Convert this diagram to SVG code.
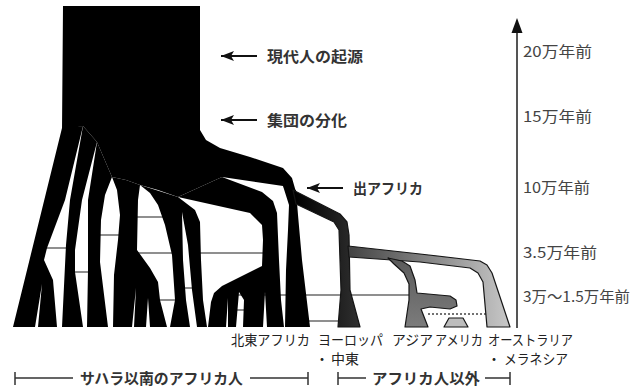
<svg xmlns="http://www.w3.org/2000/svg" width="643" height="387" viewBox="0 0 643 387">
<defs>
<linearGradient id="gEu" gradientUnits="userSpaceOnUse" x1="295" y1="0" x2="360" y2="0"><stop offset="0" stop-color="#000"/><stop offset="1" stop-color="#303030"/></linearGradient>
<linearGradient id="gOc" gradientUnits="userSpaceOnUse" x1="350" y1="0" x2="505" y2="0"><stop offset="0" stop-color="#444"/><stop offset="1" stop-color="#c4c4c4"/></linearGradient>
<linearGradient id="gAs" gradientUnits="userSpaceOnUse" x1="0" y1="258" x2="0" y2="327"><stop offset="0" stop-color="#5a5a5a"/><stop offset="1" stop-color="#7c7c7c"/></linearGradient>
<marker id="ah" viewBox="0 0 13 10" refX="13" refY="5" markerWidth="13" markerHeight="10" markerUnits="userSpaceOnUse" orient="auto"><path d="M0,0 L13,5 L0,10 L3,5 z" fill="#111"/></marker>
</defs>
<style>
.t{font-family:"Noto Sans CJK JP","Noto Sans",sans-serif;fill:#222;}
.b{font-weight:bold;fill:#333;}
.ax{fill:#444;}
.f15{font-size:15px;}
.f14{font-size:14px;}
.gl{stroke:#6a6a6a;stroke-width:1.5;fill:none;}
.blk{fill:#000;}
.ol{stroke:#151515;stroke-width:1.2;stroke-linejoin:round;}
.br{stroke:#333;stroke-width:1.5;fill:none;}
.arr{stroke:#111;stroke-width:2;fill:none;}
</style>
<rect width="643" height="387" fill="#fff"/>

<g id="gene-flow-lines" class="gl">
<line x1="45" y1="248" x2="68" y2="248"/>
<line x1="73" y1="272" x2="90" y2="272"/>
<line x1="98" y1="235" x2="121" y2="235"/>
<line x1="135" y1="217" x2="165" y2="217"/>
<line x1="135" y1="253" x2="173" y2="253"/>
<line x1="158" y1="300" x2="177" y2="300"/>
<line x1="183" y1="288" x2="195" y2="288"/>
<line x1="199" y1="253" x2="265" y2="253"/>
<line x1="234" y1="310" x2="246" y2="310"/>
<line x1="237" y1="295" x2="410" y2="295"/>
<line x1="300" y1="321" x2="340" y2="321"/>
<line x1="428" y1="314" x2="486" y2="314" stroke="#444" stroke-dasharray="2,2"/>
</g>

<g id="tree-africa" class="blk">
<path d="M63,6 H200 V130 L206,140 L220,148 L250,157 L283,168 L292,178 L296,192 L289,196 L283,186 L222,177 L178,197 L158,190 L140,185 L126,180 L112,177 L97,142 L83,126 L62,130 Z"/>
<path d="M62,128 L83,126 L65,200 L47,248 L44,260 L53,280 L57,327 L38,327 L42,284 L35,327 L13,327 Z"/>
<path d="M83,126 L97,142 L82,200 L75,250 L75,272 L83,327 L62,327 L66,245 L70,200 Z"/>
<path d="M97,142 L112,177 L105,195 L101,220 L100,262 L108,327 L87,327 L88,270 L88,200 Z"/>
<path d="M112,177 L126,180 L140,185 L138,200 L137,250 L150,268 L158,282 L160,300 L167,327 L150,327 L148,298 L146,327 L134,327 L136,288 L132,327 L113,327 L114,275 L118,240 L120,215 L117,190 Z"/>
<path d="M140,185 L178,197 L195,210 L200,222 L201,260 L203,300 L207,327 L197,327 L192,290 L188,245 L182,212 L183,260 L186,300 L190,327 L170,327 L175,300 L172,255 L165,225 L158,205 L150,193 Z"/>
<path d="M222,177 L262,192 L273,201 L277,213 L279,260 L281,300 L284,327 L267,327 L265,292 L263,327 L243,327 L244,300 L239,292 L236,327 L228,327 L228,298 L226,327 L208,327 L211,302 L214,293 L222,286 L262,266 L263,240 L262,225 L250,213 L178,197 Z"/>
<path d="M283,186 L296,190 L298,215 L302,260 L310,327 L285,327 L286,270 L288,230 L289,205 Z"/>
</g>

<g id="tree-out-of-africa">
<path id="europe" class="ol" fill="url(#gEu)" d="M293,190 L340,214 L347,222 L349,235 L350,290 L360,327 L338,327 L341,290 L339,230 L334,222 L296,204 Z"/>
<path id="oceania" class="ol" fill="url(#gOc)" d="M348,246 L420,254 L480,261 L487,265 L492,273 L510,327 L487,327 L483,282 L478,273 L470,268 L420,262 L349,257 Z"/>
<path id="asia" class="ol" fill="url(#gAs)" d="M388,258 L402,261 L410,266 L415,280 L417,293 L450,296 L456,300 L457,306 L450,309 L430,307 L421,309 L428,327 L405,327 L409,300 L409,284 L404,273 L394,264 Z"/>
<path id="america" class="ol" fill="#bdbdbd" d="M449,318 L463,318 L468,327 L444,327 Z"/>
</g>

<g id="time-axis">
<line x1="517" y1="30" x2="517" y2="328" stroke="#555" stroke-width="2"/>
<polygon points="517,18 511.5,33 522.5,33" fill="#111"/>
<text class="t ax f15" x="523" y="57" textLength="69" lengthAdjust="spacingAndGlyphs">20万年前</text>
<text class="t ax f15" x="523" y="122" textLength="69" lengthAdjust="spacingAndGlyphs">15万年前</text>
<text class="t ax f15" x="523" y="193" textLength="67" lengthAdjust="spacingAndGlyphs">10万年前</text>
<text class="t ax f15" x="523" y="258" textLength="74" lengthAdjust="spacingAndGlyphs">3.5万年前</text>
<text class="t ax f15" x="523" y="302" textLength="107" lengthAdjust="spacingAndGlyphs">3万～1.5万年前</text>
</g>

<g id="connectors">
<path class="arr" d="M257,56 H221" marker-end="url(#ah)"/>
<path class="arr" d="M257,120 H221" marker-end="url(#ah)"/>
<path class="arr" d="M343,188 H307" marker-end="url(#ah)"/>
</g>

<g id="event-labels">
<text class="t b f15" x="267" y="62" textLength="96" lengthAdjust="spacingAndGlyphs">現代人の起源</text>
<text class="t b f15" x="267" y="126" textLength="80" lengthAdjust="spacingAndGlyphs">集団の分化</text>
<text class="t b f15" x="353" y="194" textLength="70" lengthAdjust="spacingAndGlyphs">出アフリカ</text>
</g>

<g id="population-labels">
<text class="t f14" x="231" y="345" textLength="79" lengthAdjust="spacingAndGlyphs">北東アフリカ</text>
<text class="t f14" x="318" y="345" textLength="65" lengthAdjust="spacingAndGlyphs">ヨーロッパ</text>
<text class="t f14" x="315" y="364"><tspan>・</tspan><tspan x="331">中東</tspan></text>
<text class="t f14" x="392" y="345" textLength="41" lengthAdjust="spacingAndGlyphs">アジア</text>
<text class="t f14" x="435" y="345" textLength="48" lengthAdjust="spacingAndGlyphs">アメリカ</text>
<text class="t f14" x="488" y="345" textLength="85" lengthAdjust="spacingAndGlyphs">オーストラリア</text>
<text class="t f14" x="487" y="364"><tspan>・</tspan><tspan x="504" textLength="64" lengthAdjust="spacingAndGlyphs">メラネシア</tspan></text>
</g>

<g id="group-brackets">
<path class="br" d="M15,372 V385 M15,378 H73 M250,378 H308 M308,372 V385"/>
<text class="t b f15" x="80" y="384" textLength="163" lengthAdjust="spacingAndGlyphs">サハラ以南のアフリカ人</text>
<path class="br" d="M338,372 V385 M338,378 H366 M485,378 H510 M510,372 V385"/>
<text class="t b f15" x="372" y="384" textLength="108" lengthAdjust="spacingAndGlyphs">アフリカ人以外</text>
</g>
</svg>
